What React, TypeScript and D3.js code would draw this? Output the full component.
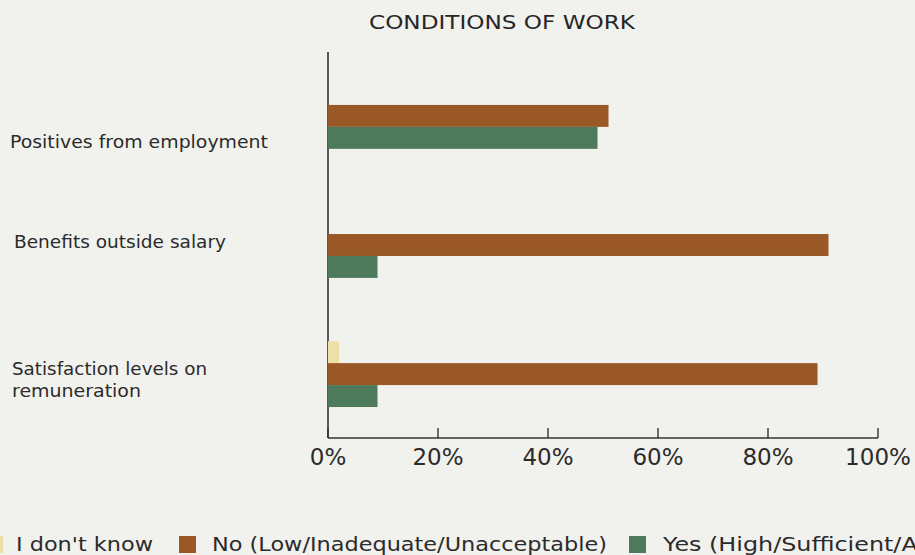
import React from "react";
import * as d3 from "d3";

const categories = [
  "Positives from employment",
  "Benefits outside salary",
  "Satisfaction levels on remuneration",
];
const categoryLines = [
  ["Positives from employment"],
  ["Benefits outside salary"],
  ["Satisfaction levels on", "remuneration"],
];
const seriesNames = [
  "I don't know",
  "No (Low/Inadequate/Unacceptable)",
  "Yes (High/Sufficient/Acceptable)",
];
const dontKnow = [0, 0, 2];
const noValues = [51, 91, 89];
const yesValues = [49, 9, 9];
const xTicks = [0, 20, 40, 60, 80, 100];
const title = "CONDITIONS OF WORK";

// layout (not data)
const W = 915;
const H = 555;
const colors = ["#ede0a6", "#9a5826", "#4d7a5a"];
const labelX = [10, 14, 12];
const labelDy = [32, 3, 1];
const labelLen = [[258], [212], [195, 129]];
const legendTextLen = [137, 395, 380];
const legendSwatchGap = [13, 16, 17];
const legendItemGap = [26, 22, 22];
const FONT = "'DejaVu Sans', sans-serif";

export default function App() {
  const series = [dontKnow, noValues, yesValues];
  const x = d3.scaleLinear().domain([0, 100]).range([328, 878]);
  const y0 = d3
    .scaleBand<string>()
    .domain(categories)
    .range([52, 438])
    .paddingInner(0.49)
    .paddingOuter(0.24);
  const y1 = d3
    .scaleBand<string>()
    .domain(seriesNames)
    .range([0, y0.bandwidth()]);

  // legend positions
  const legendItems: { sx: number; tx: number; name: string; len: number; c: string }[] = [];
  let cur = -14;
  seriesNames.forEach((name, i) => {
    const sx = cur;
    const tx = sx + 17 + legendSwatchGap[i];
    legendItems.push({ sx, tx, name, len: legendTextLen[i], c: colors[i] });
    cur = tx + legendTextLen[i] + legendItemGap[i];
  });

  return (
    <svg
      width={W}
      height={H}
      style={{ position: "absolute", left: 0, top: 0, display: "block" }}
      fontFamily={FONT}
    >
      <rect x={0} y={0} width={W} height={H} fill="#f1f1ed" />
      <text
        x={502}
        y={29}
        textAnchor="middle"
        fontSize={20}
        fill="#262626"
        textLength={266}
        lengthAdjust="spacingAndGlyphs"
      >
        {title}
      </text>

      {/* y axis */}
      <line x1={x(0)} x2={x(0)} y1={52} y2={438} stroke="#333" strokeWidth={1.6} />
      {/* x axis */}
      <line x1={x(0)} x2={x(100)} y1={438} y2={438} stroke="#333" strokeWidth={1.6} />
      {xTicks.map((t) => (
        <g key={t}>
          <line x1={x(t)} x2={x(t)} y1={428} y2={438} stroke="#333" strokeWidth={1.4} />
          <text x={x(t)} y={465} textAnchor="middle" fontSize={23} fill="#2b2b2b">
            {t + "%"}
          </text>
        </g>
      ))}

      {/* bars */}
      {categories.map((cat, ci) => (
        <g key={cat} transform={`translate(0,${y0(cat)})`}>
          {seriesNames.map((s, si) => (
            <rect
              key={s}
              x={x(0)}
              y={y1(s)}
              width={x(series[si][ci]) - x(0)}
              height={y1.bandwidth()}
              fill={colors[si]}
            />
          ))}
        </g>
      ))}

      {/* category labels */}
      {categories.map((cat, ci) => {
        const cy = (y0(cat) as number) + y0.bandwidth() / 2 + labelDy[ci];
        return categoryLines[ci].map((line, li) => (
          <text
            key={cat + li}
            x={labelX[ci]}
            y={cy + li * 22}
            fontSize={18}
            fill="#2b2b2b"
            textLength={labelLen[ci][li]}
            lengthAdjust="spacingAndGlyphs"
          >
            {line}
          </text>
        ));
      })}

      {/* legend */}
      {legendItems.map((it) => (
        <g key={it.name}>
          <rect x={it.sx} y={536} width={17} height={17} fill={it.c} />
          <text
            x={it.tx}
            y={551}
            fontSize={20}
            fill="#2b2b2b"
            textLength={it.len}
            lengthAdjust="spacingAndGlyphs"
          >
            {it.name}
          </text>
        </g>
      ))}
    </svg>
  );
}
